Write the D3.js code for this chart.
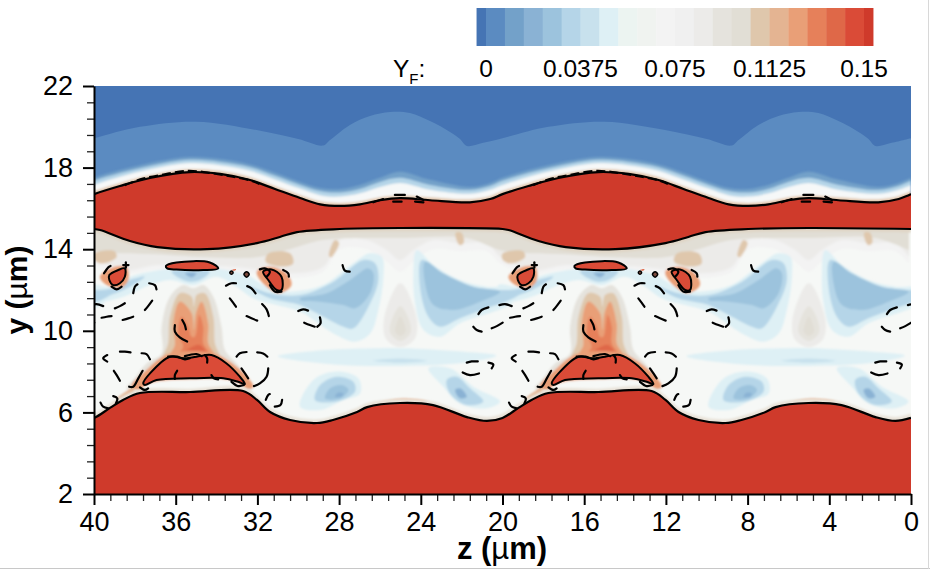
<!DOCTYPE html>
<html><head><meta charset="utf-8">
<script src="https://cdn.jsdelivr.net/npm/d3@7/dist/d3.min.js"></script>
<style>html,body{margin:0;padding:0;background:#fff}svg{display:block}text{font-family:"Liberation Sans",Arial,sans-serif;fill:#000}</style>
</head><body><svg id="c" width="930" height="569"></svg>
<script>
// ---------- values: z (µm), y (µm), YF ----------
const xTicks=[40,36,32,28,24,20,16,12,8,4,0];
const yTicks=[2,6,10,14,18,22];
const legendLevels=[0,0.0375,0.075,0.1125,0.15];
const legendLabels=["0","0.0375","0.075","0.1125","0.15"];
const bandColors=["#4574b4","#5b8bc1","#73a1c9","#8ab2d4","#9cc3dd","#b5d5e8","#c8e1ed","#def0f5","#ecf4f1","#f0f3f0","#f3f3f3","#f0f0f0","#ecebe9","#e5e3dd","#e1ded5","#dfc7ac","#e4b492","#e99f77","#e6805a","#df6848","#da4b37","#cf3a2b"];

const topZ=[40,38.73,37.26,35.3,33.83,32.36,31.14,29.91,28.93,27.96,26.98,26,25.02,23.55,21.6,20.6,20];
const flameTopY=[16.7,17.1,17.49,17.78,17.69,17.39,16.95,16.51,16.2,16.12,16.2,16.4,16.5,16.4,16.3,16.46,16.7];
const glowBlueY=[17.5,17.88,18.23,18.52,18.42,18.15,17.75,17.3,17.0,16.95,17.15,17.5,17.8,17.4,17.05,17.25,17.5];
const glowPaleY=[17.35,17.73,18.08,18.38,18.28,18.02,17.6,17.15,16.85,16.78,16.95,17.3,17.5,17.15,16.9,17.1,17.35];
const glowWhiteY=[17.15,17.55,17.92,18.22,18.12,17.85,17.42,16.97,16.65,16.58,16.74,17.05,17.25,16.92,16.72,16.92,17.15];
const glowTanY=[16.85,17.25,17.64,17.93,17.84,17.54,17.1,16.66,16.35,16.27,16.35,16.55,16.65,16.55,16.45,16.61,16.85];
const kinkZ=[40,37.75,35,32.04,30,28.78,28.44,27.47,26.49,25.5,24.53,23.55,22.57,22.08,21.74,21,20];
const kinkY=[19.44,20.0,20.25,19.84,19.4,19.08,19.35,20.09,20.53,20.73,20.68,20.28,19.75,19.4,19.06,19.2,19.44];
const flameUnderZ=[40,39.7,38.24,36.9,34.47,32.02,30.9,30.06,27.96,25,20];
const flameUnderY=[14.99,14.94,14.4,14.1,14.0,14.3,14.6,14.84,14.99,15.04,14.99];
const tanStripY=[14.82,14.77,14.23,13.93,13.83,14.13,14.43,14.67,14.82,14.87,14.82];
const botZ=[40,39.22,38.58,37.75,35.3,32.7,32.02,31.38,30.4,29.08,28.3,27.12,26.63,25.02,23.4,21.74,20.76,20];
const botY=[5.73,6.22,6.61,6.95,7.0,7.05,6.61,6.02,5.63,5.48,5.63,6.02,6.26,6.46,6.36,5.77,5.58,5.73];
const botGlowY=[5.95,6.44,6.82,7.14,7.16,7.26,6.82,6.23,5.82,5.66,5.82,6.23,6.46,6.68,6.54,5.96,5.78,5.95];
const washZ=[40.2,38.57,36.94,35.3,33.19,31.72,30.25,28.78,27.95,26.65,25.67,25.02,24.36,23.4,22.08,20.77,20.1];
const washY=[13.14,12.98,13.22,13.22,13.14,12.98,12.82,13.14,14.45,14.45,13.96,13.47,13.96,14.45,14.29,14.29,13.63];
const hazeY=[12.9,12.8,13.0,13.0,12.9,12.8,12.6,12.9,14.0,14.0,13.4,12.9,13.4,14.0,13.9,13.9,13.3];
const beigeZ=[40.2,38.57,36.94,34.49,32.04,30.41,28.78,25,21.75,20.1];
const beigeY=[13.8,13.8,13.75,13.6,13.6,14.0,14.45,14.55,14.55,13.95];
const tanA=[[40,13.78],[39,13.9],[38.9,13.6],[39.6,13.3],[40,13.5]];
const tanB=[[31.45,13.8],[30.4,13.8],[30.25,13.3],[30.9,13.15],[31.6,13.4]];
const tanC=[[28.2,14.45],[28.5,13.7],[28.4,13.6],[28,14.3]];
const tanD=[[22.3,14.8],[22,14.8],[21.9,14.3],[22.1,14.2]];
const tanO=[[25.1,12.3],[24.9,12.3],[24.2,10.6],[24.3,9.6],[25,9.2],[25.7,9.6],[25.8,10.6]];
const tanE=[[25.4,10.6],[25,11.2],[24.6,10.6],[24.5,9.9],[25,9.5],[25.5,9.9]];
const tanF=[[25.2,10.3],[25,10.7],[24.8,10.3],[24.75,9.95],[25,9.75],[25.25,9.95]];
const stripeOuter=[[40.2,12.24],[39.22,12.16],[38.24,12.65],[36.94,12.95],[35.31,13.14],[33.67,13.01],[32.53,12.73],[31.39,12.08],[30.41,11.92],[28.78,12.24],[27.31,13.31],[26.5,13.8],[25.91,13.63],[25.83,12.65],[26.08,11.02],[26.48,9.87],[27.22,9.47],[28.28,9.87],[29.91,10.94],[31.06,11.26],[32.21,11.59],[33.02,12.16],[34,12.65],[35.14,12.24],[36.28,12.49],[37.26,12.24],[38.57,11.67],[40.2,11.43]];
const rightWingOuter=[[24.2,13.96],[23.38,13.22],[22.08,12.49],[20.77,12.16],[19.47,12.08],[19.47,11.43],[22.08,10.37],[23.06,9.71],[23.87,10.04],[24.28,11.35],[24.36,12.82]];
const leftWingMid=[[32.53,12.24],[31.39,11.84],[29.91,11.75],[28.28,12.41],[26.81,13.47],[26.24,13.31],[26.08,12.49],[26.48,11.35],[27.3,10.12],[27.79,10.2],[28.93,10.77],[29.91,11.26],[31.39,11.59]];
const leftWingDark=[[29.91,11.59],[28.6,11.84],[27.46,12.49],[26.57,13.06],[26.32,12.82],[26.48,11.84],[27.22,11.1],[27.79,11.26],[28.93,11.43],[29.91,11.5]];
const rightWingMid=[[23.96,13.47],[23.06,12.9],[21.43,12.16],[19.8,12],[18.82,12.08],[19.47,11.59],[20.77,11.1],[22.08,10.61],[23.06,10.2],[23.63,10.69],[24.04,12.16]];
const rightWingDark=[[23.79,13.39],[22.9,12.82],[21.43,12.16],[20.12,11.92],[21.1,11.43],[22.41,11.02],[23.38,11.26],[23.79,12.33]];
const stripeMid=[[39.96,12],[39.22,12],[38.24,12.49],[37.51,12.65],[38.24,12.16],[39.22,11.75],[39.96,11.67]];
const centerMid=[[36.2,12.9],[35.31,12.98],[34.33,12.9],[34.82,12.49],[35.31,12.41],[35.8,12.57]];
const centerDark=[[35.55,12.82],[34.98,12.82],[35.22,12.62]];
const midBand=[[31,8.75],[28.8,9.05],[26,9.15],[24.2,9.12],[22,8.98],[20.3,8.78],[22,8.42],[25,8.28],[28.28,8.35]];
const midEllipse=[[26.32,8.53],[25.02,8.64],[23.71,8.53],[25.02,8.43]];
const blobA1=[[29.91,6.28],[29.26,7.59],[28.12,8],[27.06,7.67],[26.97,6.93],[27.79,6.61],[28.93,6.12]];
const blobA2=[[29.18,6.61],[28.93,7.34],[28.12,7.75],[27.3,7.5],[27.22,7.01],[28.12,6.53]];
const blobA3=[[28.69,6.69],[28.44,7.18],[27.87,7.34],[27.54,7.1],[27.95,6.69]];
const blobA4=[[28.2,6.77],[28.03,6.97],[27.79,6.93],[27.87,6.77]];
const blobB1=[[23.63,8.16],[22.57,8.16],[21.43,7.26],[20.12,6.53],[20.77,6.2],[22.08,6.44],[22.9,7.26]];
const blobB2=[[22.73,7.59],[22.24,7.75],[21.59,7.18],[20.94,6.53],[21.75,6.36],[22.57,6.93]];
const blobB3=[[22.32,7.1],[22.08,7.18],[21.75,6.77],[22.08,6.69]];
const plumeOuter=[[35.14,12.08],[35.63,12.24],[36.28,11.67],[36.69,10.2],[36.69,8.89],[37.43,8.4],[38.08,7.59],[38.41,7.18],[32.21,7.18],[32.53,7.75],[33.02,8.4],[33.59,9.06],[33.76,10.2],[34.16,11.67],[34.65,12.24]];
const plumeTan=[[35.22,11.67],[35.8,11.84],[36.28,10.69],[36.37,9.38],[36.61,8.57],[33.84,8.57],[34.08,9.38],[34.16,10.69],[34.57,11.84],[34.98,11.75],[35.11,11.18]];
const plumeOrange=[[35.8,11.43],[36.12,10.36],[36.04,9.3],[36.28,8.73],[34.08,8.73],[34.41,9.38],[34.41,10.36],[34.73,11.43],[35.01,10.86],[35.11,10.04],[35.22,10.86]];
const plumeDeep=[[35.71,10.69],[35.88,9.87],[35.63,9.22],[35.88,8.81],[34.33,8.81],[34.65,9.38],[34.65,10.2],[34.85,10.77],[35.06,9.71],[35.22,9.71],[35.39,10.2]];
const plumeCore=[[35.31,9.14],[34.82,9.3],[34.49,8.81],[35.71,8.76]];
const lensHalo=[[38.16,7.23],[37.43,8.08],[36.37,8.86],[34.25,8.93],[33.35,8.49],[32.37,7.59],[32.21,7.23]];
const lensGap=[[37.75,6.93],[37.51,7.29],[36.94,7.5],[35.31,7.62],[33.67,7.62],[32.94,7.43],[32.53,7.02]];
const fringeA=[[26.16,6.41],[25,6.66],[23.71,6.53],[25,6.4]];
const fringeB=[[38.9,6.6],[38.32,7.1],[38.08,7.26],[38.08,6.77],[38.65,6.36]];
const haloA=[[39.71,12.65],[39.22,13.06],[38.41,13.14],[38.32,12.49],[38.73,12.08],[39.38,12.24]];
const haloB=[[32.04,12.9],[31.39,13.14],[30.58,12.82],[30.33,12.24],[30.9,11.84],[31.55,12.16]];
const lensRed=[[37.59,7.42],[37.26,7.91],[36.28,8.73],[35.63,8.65],[34.98,8.73],[34.25,8.81],[33.51,8.4],[32.86,7.75],[32.61,7.39],[32.94,7.5],[33.67,7.67],[35.31,7.67],[36.94,7.59],[37.51,7.34]];
const islandA=[[39.25,12.73],[38.81,12.98],[38.49,13.06],[38.49,12.65],[38.73,12.33],[39.06,12.24],[39.25,12.49]];
const islandB=[[31.72,12.9],[31.31,13.01],[30.82,12.65],[30.82,12],[31.06,12],[31.47,12.49]];
const islandTop=[[36.48,13.18],[35.96,13.35],[34.33,13.35],[33.92,13.06],[34.65,12.98],[35.96,13],[36.42,13.06]];
const dotA=[[32.66,12.77],[32.53,12.9],[32.4,12.77],[32.53,12.63]];
const dotB=[[33.35,12.85],[33.27,12.93],[33.19,12.85],[33.27,12.77]];
const speck=[[33.27,12.98],[33.05,13.03],[33.09,12.95]];
const dashedArcs=[
[[39.51,12.82],[39.3,13.11],[39.19,13.18]],[[39.14,12.16],[38.89,12.03],[38.65,12.16]],
[[38.57,13.22],[38.31,13.22]],[[38.44,13.36],[38.44,13.09]],
[[38.08,11.84],[38,12.16],[37.87,12.28]],[[37.3,12.33],[37.02,12.24],[36.94,12.03]],
[[37.51,11.02],[37.35,11.21],[37.15,11.48]],[[38.98,11.1],[38.73,11.21],[38.49,11.35]],
[[39.63,10.64],[39.38,10.69],[39.14,10.72]],[[38.6,10.53],[38.32,10.61],[38.08,10.69]],
[[36.04,10.28],[36.04,9.96],[35.8,9.68],[35.44,9.47]],[[35.68,10.53],[35.55,10.28],[35.5,10.07]],
[[33.54,12.21],[33.27,12.33],[33.05,12.33]],[[32.5,12.19],[32.29,12.08],[32.09,11.84]],
[[33.35,11.59],[33.19,11.38],[33.05,11.18]],[[31.77,11.31],[31.55,11.05],[31.44,10.72]],
[[32.53,10.72],[32.29,10.61],[32.01,10.5]],[[30,10.97],[29.76,11.05],[29.52,10.99]],
[[29.71,10.4],[29.43,10.28],[29.19,10.2]],[[29.07,10.2],[28.91,10.36],[28.94,10.66]],
[[27.83,13.22],[27.72,12.95],[27.48,12.9]],[[39.35,8.81],[39.55,8.65],[39.35,8.49]],
[[38.73,8.98],[38.49,8.98],[38.21,8.94]],[[37.67,8.9],[37.43,8.86],[37.26,8.6]],
[[39.03,8.04],[38.89,7.83],[38.73,7.55]],[[38.28,7.26],[38.08,7.26],[37.83,7.67],[37.62,8.04]],
[[39.68,6.48],[39.55,6.28],[39.3,6.2]],[[39.06,6.8],[38.86,6.69],[38.93,6.44]],
[[33.02,8.73],[32.86,8.9],[32.53,8.96]],[[32.01,8.94],[31.72,8.89],[31.51,8.73]],
[[31.47,8.16],[31.55,7.75],[31.88,7.42],[32.17,7.29]],[[32.78,8.16],[32.61,7.91],[32.45,7.67]],
[[31.59,6.61],[31.47,6.85],[31.39,6.9]],[[31.15,6.28],[30.87,6.36],[30.79,6.61]],
[[21.75,8.44],[21.51,8.5],[21.21,8.5]],[[20.69,8.44],[20.45,8.35],[20.53,8.16]],
[[21.95,7.96],[21.59,7.83],[21.15,7.91]],[[21.43,10.2],[21.26,10.04],[21.02,9.96]],
[[20.53,10.12],[20.28,10.23],[19.99,10.4]],[[21.18,10.82],[21.02,11.02],[20.69,11.15]],
[[20.15,11.26],[19.88,11.31],[19.55,11.21]],
[[36.37,8.73],[35.93,8.73],[35.55,8.6],[35.31,8.65]],[[35.55,8.76],[34.98,8.86],[34.73,8.76]],
[[34.57,8.81],[34.46,8.65],[34.46,8.44]],[[36.04,7.64],[36.04,7.83],[35.93,8.04]],
[[34.25,7.83],[34.13,7.67],[33.92,7.62]],[[33.27,7.5],[32.94,7.29],[32.66,7.34]],
[[37.75,7.23],[37.51,7.1],[37.35,7.18]],[[31.88,13.01],[31.64,13.06],[31.39,12.9],[31.55,12.65]],
[[31.39,12.24],[31.15,11.92],[30.82,11.92]],[[30.74,12.98],[30.49,12.82],[30.46,12.65]],
[[26.33,16.3],[25.84,16.46]],[[25.35,16.33],[24.94,16.33]],[[25.27,16.66],[24.78,16.66]],[[24.2,16.58],[23.87,16.41]],[[24.28,16.33],[23.87,16.3]]
];
const flameRough=[[38.5,17.14],[37.6,17.46],[36.6,17.66],[35.4,17.84],[34.2,17.72],[33.2,17.55],[32.3,17.36],[31.9,17.2]];

// ---------- scales ----------
const svg=d3.select("#c");
const x=d3.scaleLinear().domain([40,0]).range([94,911]);
const y=d3.scaleLinear().domain([2,22]).range([494,86]);
const legendX=d3.scaleLinear().domain([0,0.15]).range([486,864]);
const periods=[-20,0,20];
const defs=svg.append("defs");
defs.append("clipPath").attr("id","plot").append("rect").attr("x",x(40)).attr("y",y(22)).attr("width",x(0)-x(40)).attr("height",y(2)-y(22));
const blur=(id,s)=>defs.append("filter").attr("id",id).attr("x","-5%").attr("y","-5%").attr("width","110%").attr("height","110%").append("feGaussianBlur").attr("stdDeviation",s);
blur("soft",1.0);blur("soft2",1.1);

// repeat one 20 µm period along z
const rep=(zs,ys)=>{const out=[];[20,0,-20].forEach(o=>zs.forEach((z,i)=>{if(!(i===0&&o<20))out.push([z+o,ys[i]]);}));return out;};
const curve=d3.line().x(d=>x(d[0])).y(d=>y(d[1])).curve(d3.curveCatmullRom);
const closed=d3.line().x(d=>x(d[0])).y(d=>y(d[1])).curve(d3.curveCatmullRomClosed);
const below=(yBase)=>d3.area().x(d=>x(d[0])).y0(y(yBase)).y1(d=>y(d[1])).curve(d3.curveCatmullRom);
const shift=(pts,o)=>pts.map(d=>[d[0]+o,d[1]]);

const root=svg.append("g").attr("clip-path","url(#plot)");

// bands above the flame
root.append("rect").attr("x",x(40)).attr("y",y(22)).attr("width",x(0)-x(40)).attr("height",y(15)-y(22)).attr("fill",bandColors[0]);
root.append("path").attr("d",below(14)(rep(kinkZ,kinkY))).attr("fill",bandColors[1]);
const glowG=root.append("g").attr("filter","url(#soft)");
[[glowBlueY,bandColors[2]],[glowPaleY,bandColors[5]],[glowWhiteY,"#f6f8f8"],[glowTanY,"#e3c9b0"]].forEach(([ys,c])=>{
  glowG.append("path").attr("d",below(14)(rep(topZ,ys))).attr("fill",c);
});

// interior field
root.append("rect").attr("x",x(40)).attr("y",y(15.5)).attr("width",x(0)-x(40)).attr("height",y(5)-y(15.5)).attr("fill","#f6f8f6");
const field=root.append("g").attr("filter","url(#soft2)");
field.append("path").attr("d",below(15.5)(rep(washZ,hazeY))).attr("fill",bandColors[10]);
field.append("path").attr("d",below(15.5)(rep(washZ,washY))).attr("fill",bandColors[12]);
field.append("path").attr("d",below(15.5)(rep(beigeZ,beigeY))).attr("fill",bandColors[14]);
field.append("path").attr("d",below(15.5)(rep(flameUnderZ,tanStripY))).attr("fill","#e0d6c6");
const fieldLayers=[
 [tanA,15],[tanB,15],[tanC,15],[tanD,15],[tanO,12],[tanE,13],[tanF,14],
 [midBand,7],[midEllipse,6],
 [stripeOuter,7],[rightWingOuter,7],[leftWingMid,5],[rightWingMid,5],[leftWingDark,4],[rightWingDark,4],[stripeMid,5],[centerMid,5],[centerDark,3],
 [blobA1,7],[blobA2,5],[blobA3,4],[blobA4,3],[blobB1,7],[blobB2,5],[blobB3,3],
 [plumeOuter,13],[plumeTan,15],[plumeOrange,17],[plumeDeep,18],[plumeCore,19],
 [lensHalo,17],[haloA,17],[haloB,17],[fringeA,17],[fringeB,16]
];
periods.forEach(o=>fieldLayers.forEach(([pts,c])=>{
  field.append("path").attr("d",closed(shift(pts,o))).attr("fill",bandColors[c]);
}));
periods.forEach(o=>field.append("path").attr("d",closed(shift(lensGap,o))).attr("fill","#f6f8f6"));
root.append("path").attr("filter","url(#soft2)").attr("d",below(2)(rep(botZ,botGlowY))).attr("fill","#e9e3d9");

// fuel streams (YF at its top level)
const topEdge=rep(topZ,flameTopY), underEdge=rep(flameUnderZ,flameUnderY);
root.append("path").attr("d",curve(topEdge)+curve(underEdge.slice().reverse()).replace("M","L")+"Z").attr("fill",bandColors[21]);
root.append("path").attr("d",below(2)(rep(botZ,botY))).attr("fill",bandColors[21]);
const islands=[lensRed,islandA,islandB,islandTop];
periods.forEach(o=>islands.forEach(pts=>{
  root.append("path").attr("d",closed(shift(pts,o))).attr("fill",bandColors[20]).attr("stroke","#000").attr("stroke-width",2);
}));
periods.forEach(o=>root.append("path").attr("d",closed(shift(speck,o))).attr("fill",bandColors[19]));
periods.forEach(o=>[dotA,dotB].forEach(pts=>{
  root.append("path").attr("d",closed(shift(pts,o))).attr("fill","#7d4a3c").attr("stroke","#000").attr("stroke-width",1.5);
}));

// contour lines
[[topZ,flameTopY],[flameUnderZ,flameUnderY],[botZ,botY]].forEach(([a,b])=>{
  root.append("path").attr("d",curve(rep(a,b))).attr("fill","none").attr("stroke","#000").attr("stroke-width",2.2);
});
periods.forEach(o=>{
  root.append("path").attr("d",curve(shift(flameRough,o))).attr("fill","none").attr("stroke","#000").attr("stroke-width",2.2).attr("stroke-dasharray","9 4");
  dashedArcs.forEach(pts=>root.append("path").attr("d",curve(shift(pts,o))).attr("fill","none").attr("stroke","#000").attr("stroke-width",2.2).attr("stroke-linecap","round"));
});

// axes
const minorX=d3.range(0,40.01,0.8).filter(v=>!xTicks.some(t=>Math.abs(t-v)<1e-6));
const minorY=d3.range(2,22.01,0.8).filter(v=>!yTicks.some(t=>Math.abs(t-v)<1e-6));
const gx=svg.append("g").attr("transform",`translate(0,${y(2)})`);
gx.call(d3.axisBottom(x).tickValues(minorX).tickSize(7).tickFormat("")).call(g=>g.selectAll("line").attr("stroke","#222").attr("stroke-width",1.3)).call(g=>g.select(".domain").remove());
const gx2=svg.append("g").attr("transform",`translate(0,${y(2)})`);
gx2.call(d3.axisBottom(x).tickValues(xTicks).tickSize(11).tickSizeOuter(0).tickPadding(7));
gx2.selectAll("line").attr("stroke","#000").attr("stroke-width",2);
gx2.select(".domain").attr("stroke","#000").attr("stroke-width",2);
gx2.selectAll("text").attr("font-size",27).attr("font-family","Liberation Sans");
const gy=svg.append("g").attr("transform",`translate(${x(40)},0)`);
gy.call(d3.axisLeft(y).tickValues(minorY).tickSize(7).tickFormat("")).call(g=>g.selectAll("line").attr("stroke","#222").attr("stroke-width",1.3)).call(g=>g.select(".domain").remove());
const gy2=svg.append("g").attr("transform",`translate(${x(40)},0)`);
gy2.call(d3.axisLeft(y).tickValues(yTicks).tickSize(11).tickSizeOuter(0).tickPadding(10));
gy2.selectAll("line").attr("stroke","#000").attr("stroke-width",2);
gy2.select(".domain").attr("stroke","#000").attr("stroke-width",2);
gy2.selectAll("text").attr("font-size",27).attr("font-family","Liberation Sans");

// titles
const unit=(t,s)=>{t.attr("text-anchor","middle").attr("font-size",s).attr("font-weight","bold");
  t.append("tspan").text(t.attr("data-l")+" (");t.append("tspan").attr("font-weight","normal").text("µ");t.append("tspan").text("m)");};
unit(svg.append("text").attr("data-l","z").attr("x",502).attr("y",559),31);
unit(svg.append("text").attr("data-l","y").attr("transform","translate(27,290) rotate(-90)"),30);

// legend
const step=legendX(0.0075)-legendX(0);
bandColors.forEach((c,i)=>{
  const last=bandColors.length-1;
  const x0=i===0?legendX(0)-step/2:legendX(0)+(i-1)*step;
  const w=(i===0||i===last)?step/2:step;
  svg.append("rect").attr("x",x0).attr("y",8).attr("width",w+(i<last?0.4:0)).attr("height",38).attr("fill",c);
});
legendLevels.forEach((v,i)=>{
  svg.append("text").attr("x",legendX(v)).attr("y",77).attr("text-anchor","middle").attr("font-size",24.5).text(legendLabels[i]);
});
const yf=svg.append("text").attr("x",393).attr("y",77).attr("font-size",24.5);
yf.append("tspan").text("Y");
yf.append("tspan").attr("dy",7).attr("font-size",15).text("F");
yf.append("tspan").attr("dy",-7).text(":");
// thin page border at the right and bottom edges of the picture
svg.append("rect").attr("x",0).attr("y",568).attr("width",930).attr("height",1).attr("fill","#c8c8c8");
svg.append("rect").attr("x",928).attr("y",0).attr("width",1).attr("height",569).attr("fill","#d8d8d8");
</script></body></html>
